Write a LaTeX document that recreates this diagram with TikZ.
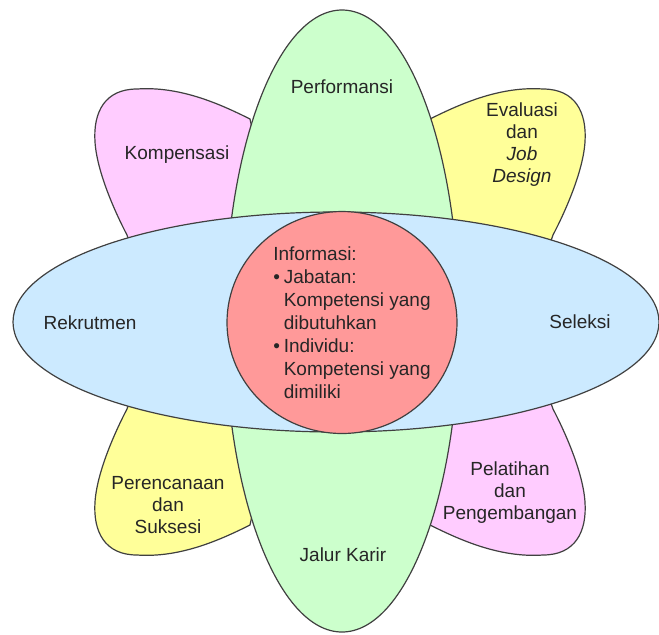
\documentclass[tikz,border=0pt]{standalone}
\usepackage{fontspec}
\setmainfont{Liberation Sans}
\usetikzlibrary{shapes.geometric}
\definecolor{pinkpetal}{RGB}{255,204,255}
\definecolor{yellowpetal}{RGB}{255,255,153}
\definecolor{greenpetal}{RGB}{204,255,204}
\definecolor{bluepetal}{RGB}{204,234,255}
\definecolor{redcore}{RGB}{255,153,153}
\definecolor{rim}{RGB}{64,64,64}
\tikzstyle{petal} = [draw=rim,line width=0.6pt]
\tikzstyle{blob} = [petal,ellipse,inner sep=0pt,outer sep=0pt]
\tikzstyle{txt} = [font=\fontsize{9.5}{11}\selectfont,text=black!85,align=center]

\begin{document}
\begin{tikzpicture}[x=0.5pt,y=-0.5pt]
    \useasboundingbox (0,0) rectangle (659,634);
    % diagonal petals
    \foreach \sx/\sy/\col in {1/-1/yellowpetal,-1/-1/pinkpetal,1/1/pinkpetal,-1/1/yellowpetal}
      \filldraw[petal,fill=\col,shift={(340,322)},xscale=\sx,yscale=\sy]
        (60,50) -- (85,180) -- (90,203)
        .. controls (120,218) and (160,236) .. (203,233)
        .. controls (235,233) and (247,210) .. (245,180)
        .. controls (243,150) and (225,110) .. (213,87)
        -- (200,50) -- cycle;
    \node[blob,fill=greenpetal,minimum width=117pt,minimum height=311pt] (vert) at (342,321) {};
    \node[blob,fill=bluepetal,minimum width=323pt,minimum height=110pt] (horiz) at (336,322) {};
    \node[blob,fill=redcore,minimum width=115pt,minimum height=111pt] (core) at (342,322.5) {};

    \node[txt] (perf) at (342,87) {Performansi};
    \node[txt] (komp) at (177,155) {Kompensasi};
    \node[txt] (eval) at (522,145) {Evaluasi\\dan\\\textit{Job}\\\textit{Design}};
    \node[txt] (rekr) at (90,323) {Rekrutmen};
    \node[txt] (sel) at (580,322) {Seleksi};
    \node[txt] (renc) at (168,505) {Perencanaan\\dan\\Suksesi};
    \node[txt] (pel) at (510,493) {Pelatihan\\dan\\Pengembangan};
    \node[txt] (jalur) at (343,555) {Jalur Karir};
    \node[txt,align=left,font=\fontsize{9.5}{11.5}\selectfont] (info) at (352,323)
      {Informasi:\\
       \makebox[0.55em][l]{\textbullet}Jabatan:\\
       \hspace*{0.55em}Kompetensi yang\\
       \hspace*{0.55em}dibutuhkan\\
       \makebox[0.55em][l]{\textbullet}Individu:\\
       \hspace*{0.55em}Kompetensi yang\\
       \hspace*{0.55em}dimiliki};
\end{tikzpicture}
\end{document}
